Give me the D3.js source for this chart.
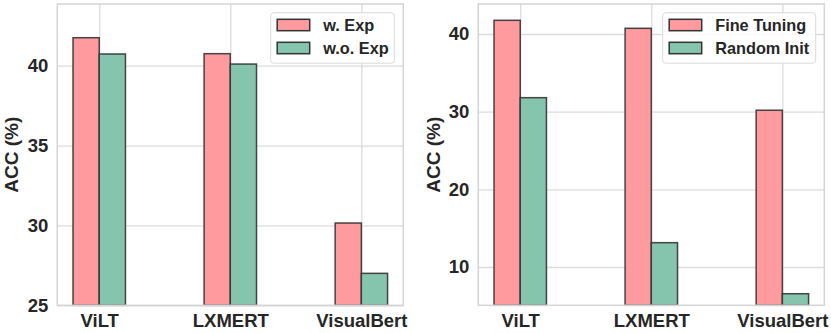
<!DOCTYPE html>
<html>
<head>
<meta charset="utf-8">
<script src="https://cdn.jsdelivr.net/npm/d3@7"></script>
<style>
  body { margin: 0; background: #fff; }
  text { font-family: "Liberation Sans", Arial, sans-serif; font-weight: bold; fill: #262626; }
</style>
</head>
<body>
<svg id="chart" width="831" height="333"></svg>
<script>
// ---------------------------//
//            DATA            //
// ---------------------------//

var models = ["ViLT", "LXMERT", "VisualBert"];

// left panel
var withExp = [41.75, 40.75, 30.15];
var withoutExp = [40.73, 40.1, 27.0];
var leftTicks = [25, 30, 35, 40];

// right panel
var fineTuning = [41.76, 40.73, 30.18];
var randomInit = [31.8, 13.13, 6.56];
var rightTicks = [10, 20, 30, 40];

// ---------------------------//
//           COLORS           //
// ---------------------------//

var pink = "#ff9a9e";
var green = "#86c5ad";
var edge = "#333333";
var gridColor = "#dcdcdc";

var svg = d3.select("#chart");

function drawPanel(opts) {
    var left = opts.left, right = opts.right, top = 4, bottom = 305.3;

    var x = d3.scaleLinear().domain([-0.32, 2.32]).range([left, right]);
    var y = d3.scaleLinear().domain(opts.yDomain).range([bottom, top]);
    var barW = 0.2;

    var g = svg.append("g");

    // y axis + horizontal grid
    var yAxis = g.append("g")
        .attr("transform", "translate(" + left + ",0)")
        .call(d3.axisLeft(y).tickValues(opts.ticks).tickSizeInner(-(right - left)).tickSizeOuter(0).tickPadding(9));
    yAxis.select(".domain").remove();
    yAxis.selectAll("line").attr("stroke", gridColor).attr("stroke-width", 1.3);
    yAxis.selectAll("text").style("font-size", "18.5px").attr("fill", "#262626");

    // x axis + vertical grid
    var xAxis = g.append("g")
        .attr("transform", "translate(0," + bottom + ")")
        .call(d3.axisBottom(x).tickValues([0, 1, 2]).tickFormat(function(d) { return models[d]; })
            .tickSizeInner(-(bottom - top)).tickSizeOuter(0).tickPadding(9));
    xAxis.select(".domain").remove();
    xAxis.selectAll("line").attr("stroke", gridColor).attr("stroke-width", 1.3);
    xAxis.selectAll("text").style("font-size", "18.5px").attr("fill", "#262626");

    // bars
    var series = [
        { values: opts.a, color: pink, offset: -barW },
        { values: opts.b, color: green, offset: 0 }
    ];
    series.forEach(function(s) {
        g.selectAll(null)
            .data(s.values)
            .enter().append("rect")
            .attr("x", function(d, i) { return x(i + s.offset); })
            .attr("y", function(d) { return y(d); })
            .attr("width", x(barW) - x(0))
            .attr("height", function(d) { return bottom - y(d); })
            .attr("fill", s.color)
            .attr("stroke", edge)
            .attr("stroke-opacity", 0.9)
            .attr("stroke-width", 1.5);
    });

    // frame
    g.append("rect")
        .attr("x", left).attr("y", top)
        .attr("width", right - left).attr("height", bottom - top)
        .attr("fill", "none")
        .attr("stroke", "#d4d4d4")
        .attr("stroke-width", 1.5);

    // y label
    g.append("text")
        .attr("transform", "translate(" + opts.labelX + "," + ((top + bottom) / 2) + ") rotate(-90)")
        .attr("text-anchor", "middle")
        .attr("dy", "0.35em")
        .style("font-size", "19px")
        .text("ACC (%)");

    // legend
    var lg = g.append("g").attr("transform", "translate(" + opts.legendX + ",12.7)");
    lg.append("rect")
        .attr("width", opts.legendW).attr("height", 50.5)
        .attr("rx", 3)
        .attr("fill", "#ffffff").attr("fill-opacity", 0.85)
        .attr("stroke", "#d9d9d9").attr("stroke-width", 1);

    var items = lg.selectAll(".item")
        .data([{ name: opts.names[0], color: pink }, { name: opts.names[1], color: green }])
        .enter().append("g")
        .attr("transform", function(d, i) { return "translate(6.5," + (6.6 + i * 23) + ")"; });

    items.append("rect")
        .attr("width", 32.5).attr("height", 11.4)
        .attr("fill", function(d) { return d.color; })
        .attr("stroke", edge).attr("stroke-width", 1.5);

    items.append("text")
        .attr("x", 46)
        .attr("y", 5.7)
        .attr("dy", "0.35em")
        .style("font-size", "16.3px")
        .text(function(d) { return d.name; });
}

drawPanel({
    left: 57.3, right: 403.3,
    yDomain: [25, 43.86], ticks: leftTicks,
    a: withExp, b: withoutExp,
    names: ["w. Exp", "w.o. Exp"],
    labelX: 11.5, legendX: 270.7, legendW: 123.6
});

drawPanel({
    left: 478.3, right: 824.3,
    yDomain: [5.07, 43.86], ticks: rightTicks,
    a: fineTuning, b: randomInit,
    names: ["Fine Tuning", "Random Init"],
    labelX: 433, legendX: 662.7, legendW: 153
});
</script>
</body>
</html>
